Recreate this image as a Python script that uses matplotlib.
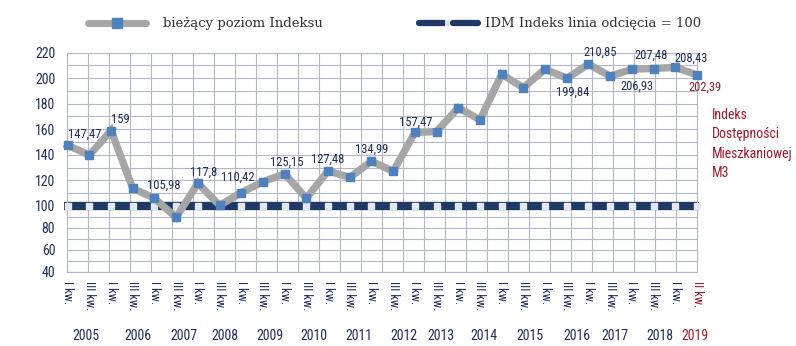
import numpy as np
import matplotlib
matplotlib.use('Agg')
import matplotlib.pyplot as plt
from matplotlib import font_manager as fm
from matplotlib.lines import Line2D

# data
quarters = ['I kw.', 'III kw.'] * 14 + ['I kw.', 'II kw.']
years = ['2005', '2006', '2007', '2008', '2009', '2010', '2011', '2012',
         '2013', '2014', '2015', '2016', '2017', '2018', '2019']
index_values = [147.47, 139.7, 159, 113.8, 105.98, 89.5, 117.8, 100.5, 110.42, 119,
                125.15, 106, 127.48, 122.3, 134.99, 127, 157.47, 158.2, 176.8, 167.3,
                203, 192.5, 207, 199.84, 210.85, 201.5, 206.93, 207.48, 208.43, 202.39]
cutoff = 100
labelled = [0, 2, 4, 6, 8, 10, 12, 14, 16, 23, 24, 26, 27, 28, 29]
side_text = 'Indeks\nDostępności\nMieszkaniowej\nM3'

# layout
year_x = [0.83, 3.25, 5.34, 7.24, 9.32, 11.34, 13.42, 15.5, 17.2, 19.17,
          21.3, 23.47, 25.22, 27.3, 28.9]
label_off = {0: (17, 11), 2: (9, 11), 4: (9, 13), 6: (6, 11), 8: (-4, 15),
             10: (2, 12), 12: (0, 12), 14: (0, 12), 16: (1, 10), 23: (6, -14),
             24: (12, 12), 26: (5, -17), 27: (-2, 13), 28: (16, 9), 29: (8, -12)}

names = {f.name for f in fm.fontManager.ttflist}
cond = 'DejaVu Sans'
for c in ['Liberation Sans Narrow', 'Roboto Condensed', 'Open Sans Condensed']:
    if c in names:
        cond = c
        break

navy = '#1f2d5c'
red = '#a01a2e'
gray = '#a6a6a6'
blue = '#4f81bd'
dark = '#1f3864'
W, H = 796, 346

fig = plt.figure(figsize=(W / 100, H / 100), dpi=100)
ax = fig.add_axes([67 / W, 1 - 271.5 / H, 630 / W, 219 / H])

# y axis is slightly squeezed below 100 in the original
r = 0.854
def fwd(v):
    v = np.asarray(v, float)
    return np.where(v >= 100, v, 100 - (100 - v) * r)
def inv(u):
    u = np.asarray(u, float)
    return np.where(u >= 100, u, 100 - (100 - u) / r)
ax.set_yscale('function', functions=(fwd, inv))

n = len(index_values)
x = np.arange(n)
ax.set_xlim(-0.03, n - 1)
ax.set_ylim(40, 220)

# cut-off line with light squares
ax.plot([-0.17, n - 1 + 0.1], [cutoff, cutoff], color=dark, lw=6, solid_capstyle='butt',
        zorder=2, clip_on=False)
ax.plot(x, [cutoff] * n, ls='none', marker='s', ms=4, color='#e4e7ee', zorder=3, clip_on=False)

ax.plot(x, index_values, color=gray, lw=5.3, zorder=4, solid_joinstyle='miter', clip_on=False)
ax.plot(x, index_values, ls='none', marker='s', ms=5.8, color=blue, zorder=5, clip_on=False)

for i in labelled:
    v = index_values[i]
    ax.annotate(f'{v:g}'.replace('.', ','), (i, v), xytext=label_off[i],
                textcoords='offset pixels', ha='center', va='center',
                fontsize=9, family=cond, color=red if i == n - 1 else navy, zorder=6)

ax.set_yticks(range(40, 221, 20))
ax.set_yticks(range(40, 221, 10), minor=True)
ax.set_xticks(x)
ax.set_xticklabels(quarters, rotation=270, fontsize=9, family=cond, color=navy)
ax.get_xticklabels()[-1].set_color(red)
ax.set_xticks(np.linspace(-0.03, n - 1, 31), minor=True)
for t in ax.get_yticklabels():
    t.set_family(cond)
    t.set_fontsize(10)
    t.set_color(navy)
ax.tick_params(which='both', length=0)
ax.tick_params(axis='y', pad=8.5)
ax.tick_params(axis='x', pad=6.5)
ax.grid(False)
ax.grid(axis='y', which='both', color='#b3b7c7', lw=0.8)
ax.grid(axis='x', which='minor', color='#b3b7c7', lw=0.8)
ax.set_axisbelow(True)
for s in ax.spines.values():
    s.set_color('#b3b7c7')
    s.set_linewidth(0.8)

tr = ax.get_xaxis_transform()
for xp, yr in zip(year_x, years):
    ax.text(xp, -0.295, yr, transform=tr, ha='center', va='center', fontsize=10,
            family=cond, color=red if yr == years[-1] else navy)

fig.text(712 / W, 1 - 108 / H, side_text, ha='left', va='top', fontsize=10,
         family=cond, color=red, linespacing=1.48)

# legend
def fx(p):
    return p / W
def fy(p):
    return 1 - p / H
ly = fy(23)
fig.add_artist(Line2D([fx(88), fx(146)], [ly, ly], color=gray, lw=5, solid_capstyle='round'))
fig.add_artist(Line2D([fx(117)], [ly], marker='s', ms=7, color=blue))
fig.text(fx(163), ly, 'bieżący poziom Indeksu', ha='left', va='center',
         fontsize=9.5, family='DejaVu Serif', color='#333333')
fig.add_artist(Line2D([fx(419), fx(445)], [ly, ly], color=dark, lw=4.5, solid_capstyle='round'))
fig.add_artist(Line2D([fx(445), fx(453)], [ly, ly], color='#e0e0e0', lw=4.5, solid_capstyle='butt'))
fig.add_artist(Line2D([fx(453), fx(478)], [ly, ly], color=dark, lw=4.5, solid_capstyle='round'))
fig.text(fx(485), ly, 'IDM Indeks linia odcięcia = 100', ha='left', va='center',
         fontsize=9.5, family='DejaVu Serif', color='#333333')

fig.savefig('out.png', dpi=100)
